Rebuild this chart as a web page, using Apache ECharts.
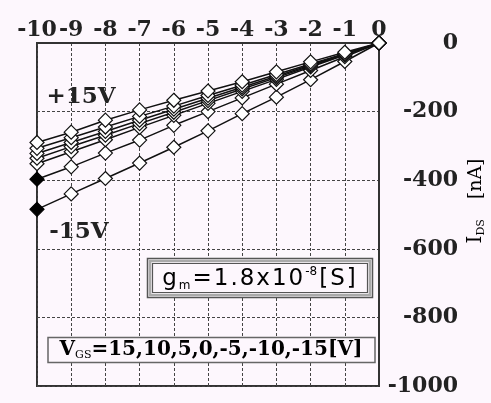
<!DOCTYPE html>
<html><head><meta charset="utf-8">
<script src="https://cdn.jsdelivr.net/npm/echarts@6/dist/echarts.min.js"></script>
<style>html,body{margin:0;padding:0;background:#fdf7fd}#c{width:491px;height:403px}</style>
</head><body><div id="c"></div>
<script>
// Drain voltage V_DS [V] (top axis)
const vds = [-10, -9, -8, -7, -6, -5, -4, -3, -2, -1, 0];
// Gate voltages of the curves
const vgsNames = ['+15V', '+10V', '+5V', '0V', '-5V', '-10V', '-15V'];
// I_DS [nA] per gate voltage, read at vds points
const idsP15 = [-290, -260, -225, -195, -167, -140, -113, -84, -55, -27, 0];
const idsP10 = [-307, -276, -245, -214, -184, -153, -123, -92, -61, -31, 0];
const idsP5  = [-322, -290, -258, -225, -193, -161, -129, -97, -64, -32, 0];
const ids0   = [-336, -302, -269, -235, -202, -168, -134, -101, -67, -34, 0];
const idsM5  = [-352, -317, -282, -246, -211, -176, -141, -106, -70, -35, 0];
const idsM10 = [-397, -361, -321, -283, -240, -200, -160, -120, -80, -40, 0];
const idsM15 = [-485, -440, -395, -350, -304, -256, -206, -158, -107, -54, 0];
const idsAll = [idsP15, idsP10, idsP5, ids0, idsM5, idsM10, idsM15];
// Curves whose first point is drawn as a filled marker
const filledFirst = ['-10V', '-15V'];
// Axis tick settings
const yMin = -1000, yMax = 0, yStep = 200;
const xMin = -10, xMax = 0, xStep = 1;

const BG = '#fdf7fd';
const SERIF = '"DejaVu Serif", "Liberation Serif", serif';
const SANS = '"DejaVu Sans", "Liberation Sans", sans-serif';

const series = vgsNames.map((name, k) => ({
  name: name,
  type: 'line',
  symbol: 'diamond',
  symbolSize: 14,
  z: 10 - k,
  lineStyle: { color: '#111', width: 1.5 },
  itemStyle: { color: '#fff', borderColor: '#111', borderWidth: 1.2 },
  emphasis: { disabled: true },
  data: vds.map((x, i) => {
    const item = { value: [x, idsAll[k][i]] };
    if (i === 0 && filledFirst.includes(name)) item.itemStyle = { color: '#000', borderColor: '#000' };
    return item;
  })
}));

const chart = echarts.init(document.getElementById('c'), null, { renderer: 'canvas' });
chart.setOption({
  backgroundColor: BG,
  animation: false,
  grid: { left: 37, right: 112, top: 43, bottom: 17, show: true, borderColor: '#333', borderWidth: 2, backgroundColor: BG },
  xAxis: {
    type: 'value', position: 'top', min: xMin, max: xMax, interval: xStep,
    axisLine: { show: true, lineStyle: { color: '#333', width: 2 } },
    axisTick: { show: false },
    axisLabel: { margin: 2, fontFamily: SERIF, fontWeight: 'bold', fontSize: 22, color: '#222', formatter: v => String(v) },
    splitLine: { show: true, lineStyle: { color: '#444', type: [3, 2], width: 1 } }
  },
  yAxis: {
    type: 'value', position: 'right', min: yMin, max: yMax, interval: yStep,
    axisLine: { show: true, lineStyle: { color: '#333', width: 2 } },
    axisTick: { show: false },
    axisLabel: { margin: 79, align: 'right', fontFamily: SERIF, fontWeight: 'bold', fontSize: 22, color: '#222', formatter: v => String(v) },
    splitLine: { show: true, lineStyle: { color: '#444', type: [3, 2], width: 1 } }
  },
  series: series,
  graphic: [
    { type: 'text', z: 100, x: 81, y: 97, style: { text: '+15V', font: 'bold 23px ' + SERIF, fill: '#222', align: 'center', verticalAlign: 'middle' } },
    { type: 'text', z: 100, x: 79, y: 232, style: { text: '-15V', font: 'bold 23px ' + SERIF, fill: '#222', align: 'center', verticalAlign: 'middle' } },
    { type: 'rect', z: 100, shape: { x: 147.5, y: 258.5, width: 225, height: 39 }, style: { fill: BG, stroke: '#555', lineWidth: 1.5 } },
    { type: 'rect', z: 100, shape: { x: 150, y: 261, width: 220, height: 34 }, style: { fill: 'none', stroke: '#aaa', lineWidth: 2.5 } },
    { type: 'rect', z: 100, shape: { x: 152.5, y: 263.5, width: 215, height: 29 }, style: { fill: 'none', stroke: '#555', lineWidth: 1.2 } },
    { type: 'text', z: 101, x: 259, y: 279, style: {
      text: '{t|g}{s|m}{t|=}{t|1}{t|.}{t|8}{t|x}{t|1}{t|0}{p|-8}{t|[}{t|S}{t|]}',
      align: 'center', verticalAlign: 'middle',
      rich: {
        t: { fontFamily: SANS, fontSize: 23, color: '#333', padding: [0, 1], lineHeight: 26 },
        s: { fontFamily: SANS, fontSize: 12, color: '#333', verticalAlign: 'bottom', lineHeight: 15, padding: [0, 1] },
        p: { fontFamily: SANS, fontSize: 12, color: '#333', verticalAlign: 'top', lineHeight: 15, padding: [0, 1] }
      } } },
    { type: 'rect', z: 100, shape: { x: 48, y: 337.5, width: 327, height: 25 }, style: { fill: BG, stroke: '#666', lineWidth: 1.5 } },
    { type: 'text', z: 101, x: 211, y: 350, style: {
      text: '{v|V}{s|GS}{v|=15,10,5,0,-5,-10,-15[V]}',
      align: 'center', verticalAlign: 'middle',
      rich: {
        v: { fontFamily: SERIF, fontWeight: 'bold', fontSize: 20, color: '#222', lineHeight: 22 },
        s: { fontFamily: SERIF, fontSize: 11, color: '#222', verticalAlign: 'bottom', lineHeight: 14 }
      } } },
    { type: 'text', z: 101, x: 476, y: 201, rotation: Math.PI / 2, style: {
      text: '{a|I}{b|DS}{c|[nA]}',
      align: 'center', verticalAlign: 'middle',
      rich: {
        a: { fontFamily: SERIF, fontSize: 20, color: '#222', lineHeight: 22 },
        b: { fontFamily: SERIF, fontSize: 11, color: '#222', verticalAlign: 'bottom', lineHeight: 14 },
        c: { fontFamily: SERIF, fontSize: 19, color: '#222', lineHeight: 22, padding: [0, 0, 0, 20] }
      } } }
  ]
});
</script></body></html>
